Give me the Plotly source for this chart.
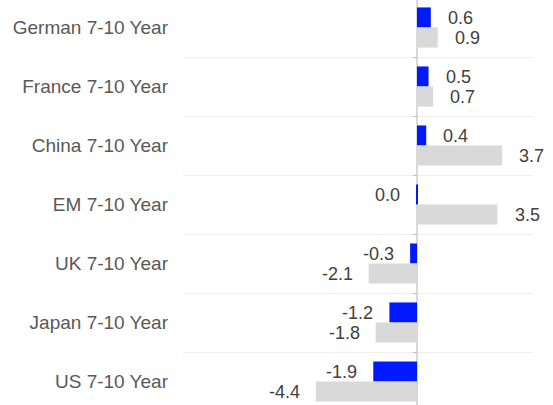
import plotly.graph_objects as go

# bond categories, top to bottom
categories = ['German 7-10 Year', 'France 7-10 Year', 'China 7-10 Year', 'EM 7-10 Year',
              'UK 7-10 Year', 'Japan 7-10 Year', 'US 7-10 Year']
blue_vals = [0.6, 0.5, 0.4, -0.04, -0.3, -1.2, -1.9]
gray_vals = [0.9, 0.7, 3.7, 3.5, -2.1, -1.8, -4.4]

pos = list(range(len(categories)))
seps = [p + 0.5 for p in pos[:-1]]


def fmt(v):
    s = f"{v:.1f}"
    return "0.0" if s == "-0.0" else s


fig = go.Figure()
fig.add_trace(go.Bar(x=blue_vals, y=pos, orientation='h', marker_color='#0019ff',
                     marker_line_width=0, name='blue', hoverinfo='x'))
fig.add_trace(go.Bar(x=gray_vals, y=pos, orientation='h', marker_color='#d9d9d9',
                     marker_line_width=0, name='gray', hoverinfo='x'))
# empty trace so the overlay axis (tick stubs on the zero line) gets drawn
fig.add_trace(go.Scatter(x=[None], y=[None], yaxis='y2', hoverinfo='skip'))

# value labels next to each bar end
for vals, ysh in [(blue_vals, 10), (gray_vals, -10)]:
    for i, v in enumerate(vals):
        fig.add_annotation(x=v, y=i, text=fmt(v), showarrow=False,
                           xanchor='left' if v >= 0 else 'right',
                           xshift=15 if v >= 0 else -14, yshift=ysh,
                           font=dict(size=18, color='#404040'))

fig.update_layout(
    width=553, height=405,
    margin=dict(l=183, r=20, t=0, b=0),
    paper_bgcolor='white', plot_bgcolor='white',
    barmode='group', bargap=0.32, bargroupgap=0,
    showlegend=False,
    font=dict(family='Liberation Sans, Arial, sans-serif', size=19, color='#595959'),
)
fig.update_xaxes(range=[-10.17, 5.04], showticklabels=False, showgrid=False,
                 zeroline=True, zerolinecolor='#d9d9d9', zerolinewidth=1.5, ticks='')
fig.update_yaxes(range=[6.398, -0.466], tickvals=pos, ticktext=categories,
                 showgrid=False, zeroline=False, ticks='', ticklabelstandoff=14,
                 minor=dict(tickmode='array', tickvals=seps,
                            showgrid=True, gridcolor='#efefef', gridwidth=1, ticks=''))
# little tick stubs on the zero line at the row separators
fig.update_layout(yaxis2=dict(overlaying='y', matches='y', anchor='free',
                              position=10.17 / 15.21, side='left', showgrid=False,
                              zeroline=False, showline=False, showticklabels=False,
                              tickmode='array', tickvals=seps, ticks='outside',
                              ticklen=4, tickcolor='#bfbfbf', tickwidth=1))

fig.write_html("out.html", config={'displayModeBar': False},
               post_script="document.body.style.margin='0';")
